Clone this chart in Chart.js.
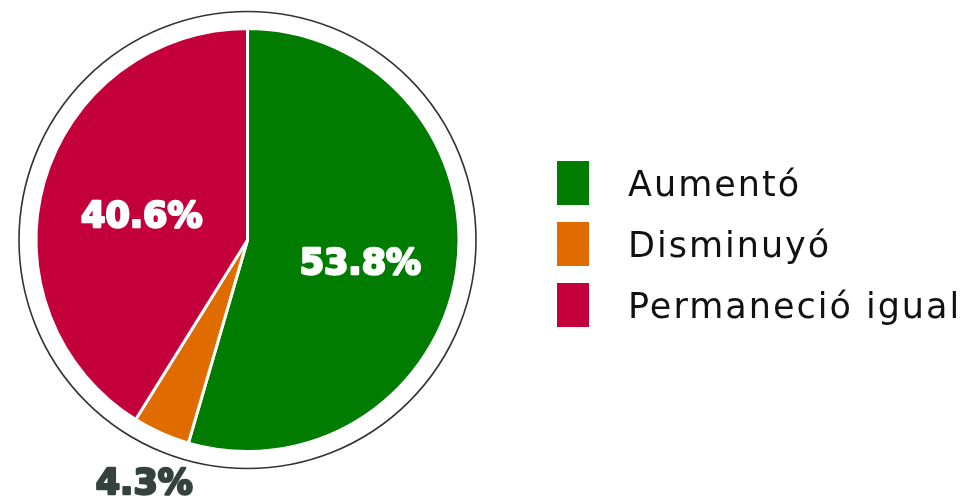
<!DOCTYPE html>
<html>
<head>
<meta charset="utf-8">
<script src="https://cdn.jsdelivr.net/npm/chart.js@4.4.1/dist/chart.umd.min.js"></script>
<style>
  html, body { margin: 0; padding: 0; background: #ffffff; }
  #wrap { width: 970px; height: 501px; position: relative; }
</style>
</head>
<body>
<div id="wrap"><canvas id="c" width="970" height="501"></canvas></div>
<script>
const categories = ["Aumentó", "Disminuyó", "Permaneció igual"];
const values = [53.8, 4.3, 40.6];
const valueLabels = ["53.8%", "4.3%", "40.6%"];
const colors = ["#007D00", "#E06C00", "#C4003C"];
const labelColors = ["#ffffff", "#36423D", "#ffffff"];
const labelRadius = [112, 258, 112];

const ringPlugin = {
  id: 'ring',
  beforeDatasetsDraw(chart) {
    const arc = chart.getDatasetMeta(0).data[0];
    if (!arc) return;
    const ctx = chart.ctx;
    ctx.save();
    ctx.beginPath();
    ctx.arc(arc.x, arc.y, arc.outerRadius + 17, 0, Math.PI * 2);
    ctx.fillStyle = '#ffffff';
    ctx.fill();
    ctx.lineWidth = 1.6;
    ctx.strokeStyle = '#333333';
    ctx.stroke();
    ctx.restore();
  }
};

const labelPlugin = {
  id: 'sliceLabels',
  afterDatasetsDraw(chart) {
    const ctx = chart.ctx;
    const meta = chart.getDatasetMeta(0);
    ctx.save();
    ctx.font = 'bold 35px "DejaVu Sans", sans-serif';
    ctx.textAlign = 'center';
    ctx.textBaseline = 'middle';
    ctx.lineJoin = 'round';
    ctx.lineWidth = 2.4;
    meta.data.forEach((a, i) => {
      const mid = (a.startAngle + a.endAngle) / 2;
      const x = a.x + Math.cos(mid) * labelRadius[i] + 2;
      const y = a.y + Math.sin(mid) * labelRadius[i] + 9;
      ctx.fillStyle = labelColors[i];
      ctx.strokeStyle = labelColors[i];
      ctx.fillText(valueLabels[i], x, y);
      ctx.strokeText(valueLabels[i], x, y);
    });
    ctx.restore();
  }
};

const legendPlugin = {
  id: 'sideLegend',
  afterDraw(chart) {
    const ctx = chart.ctx;
    ctx.save();
    ctx.font = '400 35px "DejaVu Sans", sans-serif';
    if ('letterSpacing' in ctx) ctx.letterSpacing = '2px';
    ctx.textAlign = 'left';
    ctx.textBaseline = 'alphabetic';
    categories.forEach((name, i) => {
      const top = 161 + i * 61;
      ctx.fillStyle = colors[i];
      ctx.fillRect(557, top, 32, 44);
      ctx.fillStyle = '#111111';
      ctx.fillText(name, 628, top + 35);
    });
    ctx.restore();
  }
};

new Chart(document.getElementById('c'), {
  type: 'pie',
  data: {
    labels: categories,
    datasets: [{
      data: values,
      backgroundColor: colors,
      borderColor: '#ffffff',
      borderWidth: 3,
      hoverOffset: 0
    }]
  },
  options: {
    responsive: false,
    animation: false,
    layout: { padding: { left: 34, right: 509, top: 27, bottom: 48 } },
    plugins: {
      legend: { display: false },
      tooltip: { enabled: false }
    }
  },
  plugins: [ringPlugin, labelPlugin, legendPlugin]
});
</script>
</body>
</html>
